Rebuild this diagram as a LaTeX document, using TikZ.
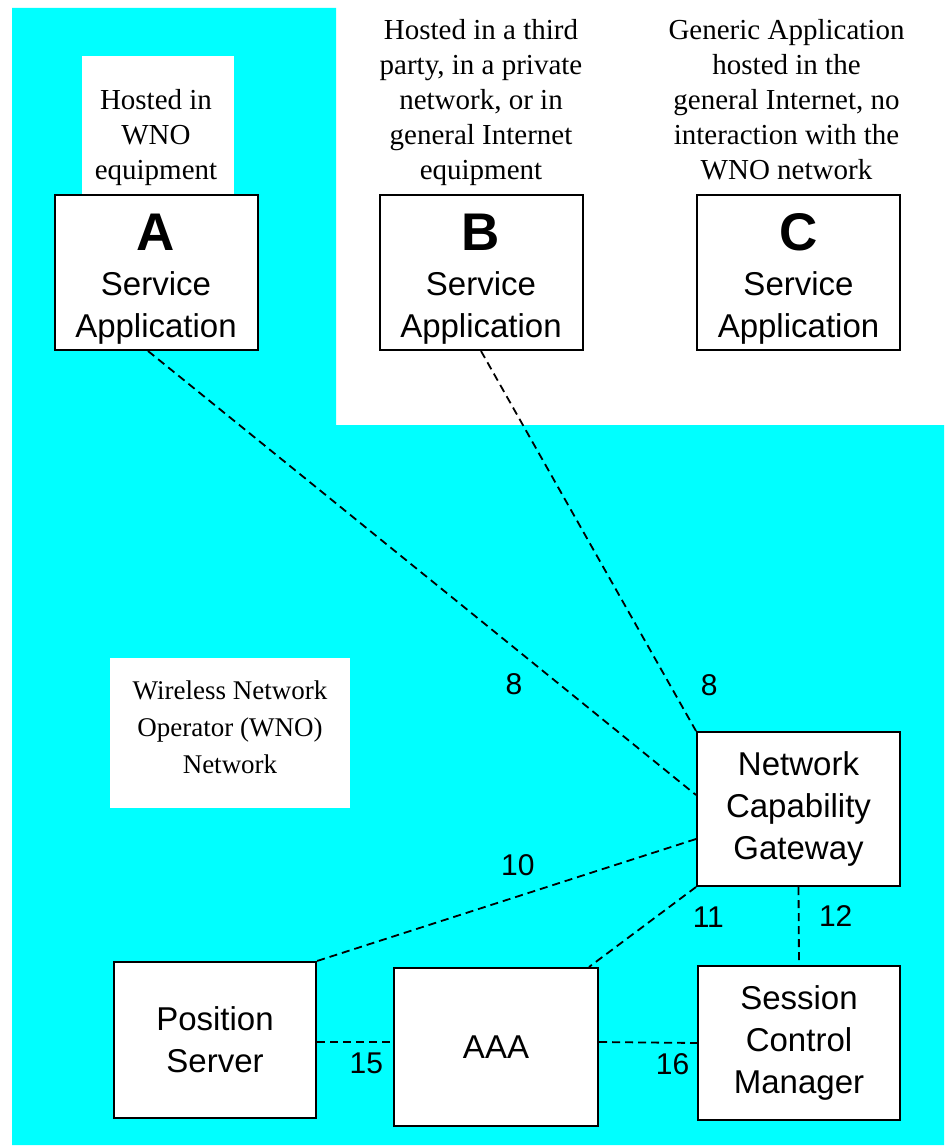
\documentclass[tikz,border=0pt]{standalone}
\usepackage{fontspec}
\setmainfont{Liberation Serif}
\setsansfont{Liberation Sans}
\usepackage{xcolor}
\usepackage{tikz}
\usetikzlibrary{positioning,calc}
\definecolor{wnocyan}{RGB}{0,255,255}
\newcommand{\appletter}[1]{{\fontsize{53}{50}\bfseries\rule{0pt}{50pt}#1}}
\tikzset{
    appbox/.style={rectangle, draw, line width=2pt, fill=white, minimum width=203pt, minimum height=155pt, inner sep=0pt, align=center, font=\sffamily\fontsize{33}{42}\selectfont},
    note/.style={align=center, inner sep=0pt, font=\fontsize{29}{35}\selectfont},
    link/.style={dash pattern=on 8pt off 5pt, line width=1.8pt},
    num/.style={font=\sffamily\fontsize{30}{30}\selectfont},
}

\begin{document}
\begin{tikzpicture}[x=1pt, y=-1pt]
    \useasboundingbox (0,0) rectangle (944,1147);
    % operator network area
    \fill[wnocyan] (12,8) -- (336,8) -- (336,425) -- (944,425) -- (944,1145) -- (12,1145) -- cycle;
    \fill[white] (82,56) rectangle (234,196);
    \fill[white] (110,658) rectangle (350,808);

    \node[appbox] (appA) at (156,272.5) {\appletter{A}\\[3pt]Service\\Application};
    \node[appbox] (appB) at (481,272.5) {\appletter{B}\\[3pt]Service\\Application};
    \node[appbox] (appC) at (798.5,272.5) {\appletter{C}\\[3pt]Service\\Application};

    \node[note, above=8pt of appA] (hostA) {Hosted in\\WNO\\equipment};
    \node[note, above=8pt of appB] (hostB) {Hosted in a third\\party, in a private\\network, or in\\general Internet\\equipment};
    \node[note, above=14pt of appC, xshift=-12pt] (hostC) {Generic Application\\hosted in the\\general Internet, no\\interaction with the\\WNO network};

    \node[note, font=\fontsize{27}{37}\selectfont] (wno) at (230,727) {Wireless Network\\Operator (WNO)\\Network};

    \node[appbox, minimum height=154pt] (ncg) at (798.5,809) {Network\\Capability\\Gateway};
    \node[appbox, minimum width=202pt, minimum height=156pt] (pos) at (215,1040) {Position\\Server};
    \node[appbox, minimum width=204pt, minimum height=158pt] (aaa) at (496,1047) {AAA};
    \node[appbox, minimum width=202pt, minimum height=154pt] (scm) at (799,1043) {Session\\Control\\Manager};

    \draw[link] ([xshift=-8pt]appA.south) -- node[num, pos=0.75, xshift=-45pt] {8} ([yshift=14pt]ncg.west);
    \draw[link] (appB.south) -- node[num, pos=0.88, xshift=39pt] {8} (ncg.north west);
    \draw[link] ([yshift=-30pt]ncg.west) -- node[num, pos=0.47, yshift=31pt] {10} (pos.north east);
    \draw[link] (ncg.south west) -- node[num, pos=0.38, xshift=53pt] {11} ([xshift=-10pt]aaa.north east);
    \draw[link] (ncg.south) -- node[num, pos=0.375, xshift=37pt] {12} (scm.north);
    \draw[link] ([yshift=-2pt]pos.east) -- node[num, pos=0.65, yshift=-21pt] {15} ([yshift=-2pt]pos.east -| aaa.west);
    \draw[link] ([yshift=5pt]aaa.east) -- node[num, pos=0.75, yshift=-21pt] {16} (scm.west);
\end{tikzpicture}
\end{document}
